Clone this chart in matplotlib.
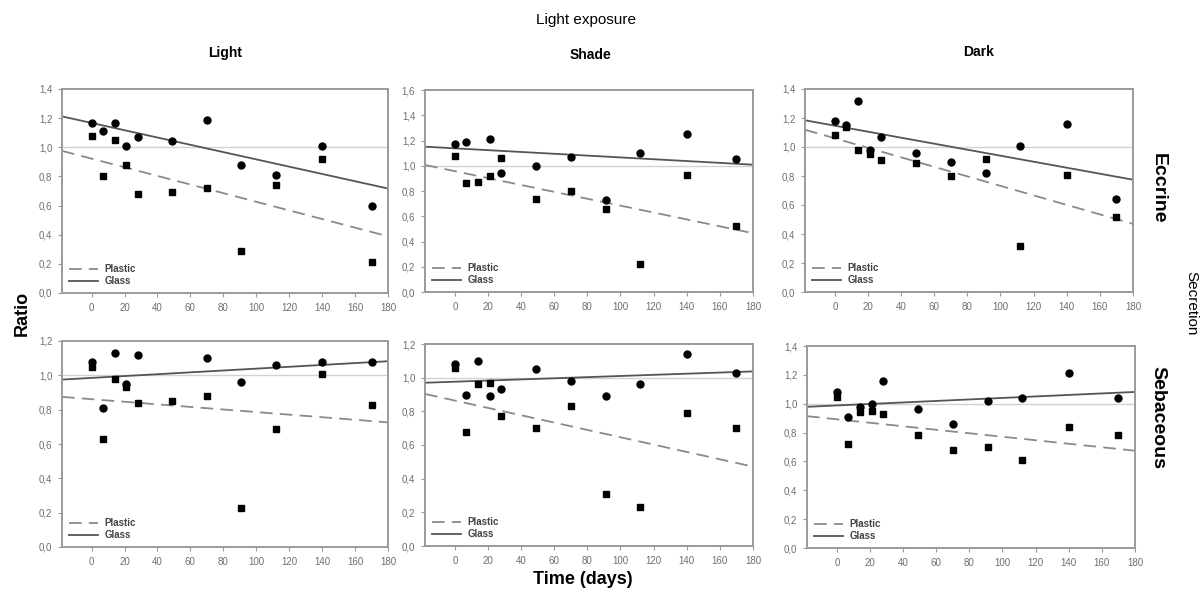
import numpy as np
import matplotlib
matplotlib.use("Agg")
import matplotlib.pyplot as plt
from matplotlib.ticker import FuncFormatter

plt.rcParams['font.family'] = ['Liberation Sans', 'DejaVu Sans']

days = [0, 7, 14, 21, 28, 49, 70, 91, 112, 140, 170]
nan = np.nan

# ratios (circles = glass, squares = plastic)
eccrine_light_glass = [1.17, 1.11, 1.17, 1.01, 1.07, 1.04, 1.19, 0.88, 0.81, 1.01, 0.60]
eccrine_light_plastic = [1.08, 0.80, 1.05, 0.88, 0.68, 0.69, 0.72, 0.29, 0.74, 0.92, 0.21]
eccrine_shade_glass = [1.17, 1.19, nan, 1.21, 0.94, 1.00, 1.07, 0.73, 1.10, 1.25, 1.05]
eccrine_shade_plastic = [1.08, 0.86, 0.87, 0.92, 1.06, 0.74, 0.80, 0.66, 0.22, 0.93, 0.52]
eccrine_dark_glass = [1.18, 1.15, 1.32, 0.98, 1.07, 0.96, 0.90, 0.82, 1.01, 1.16, 0.64]
eccrine_dark_plastic = [1.08, 1.14, 0.98, 0.95, 0.91, 0.89, 0.80, 0.92, 0.32, 0.81, 0.52]
sebaceous_light_glass = [1.08, 0.81, 1.13, 0.95, 1.12, nan, 1.10, 0.96, 1.06, 1.08, 1.08]
sebaceous_light_plastic = [1.05, 0.63, 0.98, 0.93, 0.84, 0.85, 0.88, 0.23, 0.69, 1.01, 0.83]
sebaceous_shade_glass = [1.08, 0.90, 1.10, 0.89, 0.93, 1.05, 0.98, 0.89, 0.96, 1.14, 1.03]
sebaceous_shade_plastic = [1.06, 0.68, 0.96, 0.97, 0.77, 0.70, 0.83, 0.31, 0.23, 0.79, 0.70]
sebaceous_dark_glass = [1.08, 0.91, 0.98, 1.00, 1.16, 0.96, 0.86, 1.02, 1.04, 1.21, 1.04]
sebaceous_dark_plastic = [1.05, 0.72, 0.94, 0.95, 0.93, 0.78, 0.68, 0.70, 0.61, 0.84, 0.78]

# regression lines (intercept, slope) as drawn in the figure
glass_fits = [(1.167, -0.00250), (1.138, -0.00072), (1.147, -0.00207),
              (0.985, 0.00054), (0.976, 0.00034), (0.988, 0.00052)]
plastic_fits = [(0.922, -0.00296), (0.957, -0.00273), (1.060, -0.00328),
                (0.861, -0.00075), (0.864, -0.00218), (0.892, -0.00121)]
ymax = [1.4, 1.6, 1.4, 1.2, 1.2, 1.4]

glass = [eccrine_light_glass, eccrine_shade_glass, eccrine_dark_glass,
         sebaceous_light_glass, sebaceous_shade_glass, sebaceous_dark_glass]
plastic = [eccrine_light_plastic, eccrine_shade_plastic, eccrine_dark_plastic,
           sebaceous_light_plastic, sebaceous_shade_plastic, sebaceous_dark_plastic]

columns = ['Light', 'Shade', 'Dark']
rows = ['Eccrine', 'Sebaceous']

W, H = 1203, 596
# panel boxes in pixels: left, top, right, bottom
boxes = [(62, 89, 388, 293), (425, 90, 753, 292), (805, 89, 1133, 292),
         (62, 341, 388, 547), (425, 344, 753, 546), (807, 346, 1135, 548)]
title_pos = [(225, 53), (590, 55), (979, 52)]

fig = plt.figure(figsize=(W / 100, H / 100), dpi=100)
fig.patch.set_facecolor('white')

xmin, xmax = -18, 180
xx = np.array([xmin, xmax])
spine_col = '#9a9a9a'
tick_col = '#6e6e6e'

for i, (l, t, r, b) in enumerate(boxes):
    ax = fig.add_axes([l / W, 1 - b / H, (r - l) / W, (b - t) / H])
    ax.axhline(1.0, color='#d2d2d2', lw=1.0, zorder=1)
    a, s = plastic_fits[i]
    ax.plot(xx, a + s * xx, color='#8a8a8a', lw=1.3, ls=(0, (7, 4)), label='Plastic', zorder=2)
    a, s = glass_fits[i]
    ax.plot(xx, a + s * xx, color='#555555', lw=1.3, label='Glass', zorder=2)
    ax.plot(days, plastic[i], 's', color='black', ms=5, zorder=3)
    ax.plot(days, glass[i], 'o', color='black', ms=5, zorder=3)
    ax.set_xlim(xmin, xmax)
    ax.set_ylim(0, ymax[i])
    ax.set_xticks(np.arange(0, 181, 20))
    ax.set_yticks(np.arange(0, ymax[i] + 0.01, 0.2))
    ax.yaxis.set_major_formatter(FuncFormatter(lambda v, p: f'{v:.1f}'.replace('.', ',')))
    for sp in ax.spines.values():
        sp.set_color(spine_col)
        sp.set_linewidth(1.4)
    ax.tick_params(direction='out', length=3, width=0.8, color=spine_col,
                   labelcolor=tick_col, labelsize=7, pad=4)
    leg = ax.legend(loc='lower left', frameon=False, fontsize=7, handlelength=3.0,
                    labelspacing=0.2, borderaxespad=0.3, handletextpad=0.7)
    for txt in leg.get_texts():
        txt.set_color('#444444')
        txt.set_fontweight('bold')

for name, (px, py) in zip(columns, title_pos):
    fig.text(px / W, 1 - py / H, name, ha='center', va='center', fontsize=10,
             fontweight='bold', family=['Liberation Sans Narrow', 'Liberation Sans'])

fig.text(586 / W, 1 - 20 / H, 'Light exposure', ha='center', va='center', fontsize=11,
         family=['Liberation Sans Narrow', 'Liberation Sans'])
fig.text(22 / W, 1 - 313 / H, 'Ratio', ha='center', va='center', rotation=90,
         fontsize=13, fontweight='bold')
fig.text(583 / W, 1 - 580 / H, 'Time (days)', ha='center', va='center',
         fontsize=13, fontweight='bold')
fig.text(1158 / W, 1 - 188 / H, rows[0], ha='center', va='center', rotation=-90,
         fontsize=14, fontweight='bold')
fig.text(1158 / W, 1 - 418 / H, rows[1], ha='center', va='center', rotation=-90,
         fontsize=14, fontweight='bold')
fig.text(1191 / W, 1 - 303 / H, 'Secretion', ha='center', va='center', rotation=-90,
         fontsize=11)

fig.savefig('out.png', dpi=100, facecolor='white')
